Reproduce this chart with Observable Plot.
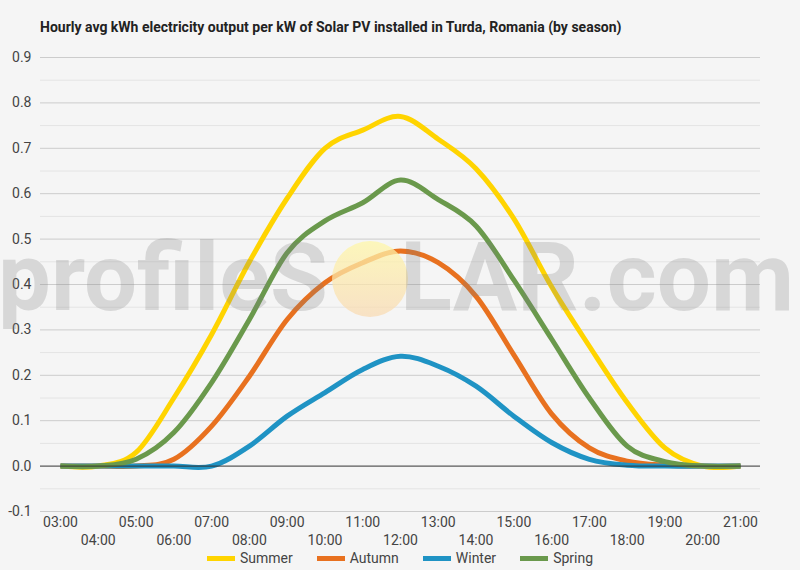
<!DOCTYPE html>
<html>
<head>
<meta charset="utf-8">
<script src="https://cdn.jsdelivr.net/npm/d3@7"></script>
<script src="https://cdn.jsdelivr.net/npm/@observablehq/plot@0.6"></script>
<style>
  html, body { margin: 0; padding: 0; background: #f5f5f5; }
  body { width: 800px; height: 570px; position: relative; overflow: hidden; font-family: Roboto, "Noto Sans", sans-serif; }
  #title { position: absolute; left: 40px; top: 19px; font-size: 14px; line-height: 16px; font-weight: 700; color: #222; white-space: nowrap; }
  #chart { position: absolute; left: 0; top: 45px; }
  #legend { position: absolute; left: 0; top: 549px; width: 800px; display: flex; justify-content: center; gap: 24px; font-size: 14px; color: #444; line-height: 18px; }
  #legend .item { display: flex; align-items: center; gap: 5px; }
  #legend .sw { width: 28px; height: 5px; display: inline-block; }
  #wm { position: absolute; left: 0; top: 0; pointer-events: none; }
</style>
</head>
<body>
<div id="title">Hourly avg kWh electricity output per kW of Solar PV installed in Turda, Romania (by season)</div>
<div id="chart"></div>
<div id="legend"></div>
<svg id="wm" width="800" height="570">
  <defs>
    <linearGradient id="sun" x1="0" y1="0" x2="0" y2="1">
      <stop offset="0" stop-color="#fff7a8" stop-opacity="0.75"/>
      <stop offset="1" stop-color="#f9d9b0" stop-opacity="0.7"/>
    </linearGradient>
  </defs>
  <circle cx="370" cy="279" r="38" fill="url(#sun)"/>
  <text x="-2" y="310" font-family="Roboto" font-weight="700" font-size="94" fill="rgb(128,128,128)" fill-opacity="0.25">profileS</text>
  <text x="400" y="310" font-family="Roboto" font-weight="700" font-size="96" fill="rgb(128,128,128)" fill-opacity="0.25">LAR.com</text>
</svg>
<script>
const hours = [3, 4, 5, 6, 7, 8, 9, 10, 11, 12, 13, 14, 15, 16, 17, 18, 19, 20, 21];
const hourLabels = ["03:00","04:00","05:00","06:00","07:00","08:00","09:00","10:00","11:00","12:00","13:00","14:00","15:00","16:00","17:00","18:00","19:00","20:00","21:00"];
const seasons = ["Summer", "Autumn", "Winter", "Spring"];
const colors = ["#ffd400", "#e8711f", "#1f93c4", "#6a994c"];
const summer = [0, 0, 0.03, 0.15, 0.29, 0.45, 0.59, 0.70, 0.74, 0.77, 0.72, 0.655, 0.545, 0.395, 0.264, 0.14, 0.04, 0, 0];
const autumn = [0, 0, 0, 0.015, 0.088, 0.198, 0.323, 0.404, 0.448, 0.474, 0.448, 0.374, 0.245, 0.115, 0.04, 0.011, 0.002, 0, 0];
const winter = [0, 0, 0, 0, 0, 0.044, 0.11, 0.162, 0.213, 0.242, 0.22, 0.176, 0.11, 0.052, 0.015, 0.002, 0, 0, 0];
const spring = [0, 0, 0.015, 0.074, 0.184, 0.323, 0.47, 0.54, 0.58, 0.63, 0.587, 0.529, 0.41, 0.28, 0.15, 0.044, 0.01, 0, 0];
const majorTicks = [-0.1, 0, 0.1, 0.2, 0.3, 0.4, 0.5, 0.6, 0.7, 0.8, 0.9];
const minorTicks = [-0.05, 0.05, 0.15, 0.25, 0.35, 0.45, 0.55, 0.65, 0.75, 0.85];

const seriesValues = [summer, autumn, winter, spring];
const data = [];
seasons.forEach((s, i) => hours.forEach((h, j) => data.push({season: s, hour: h, value: seriesValues[i][j]})));

const labelOf = h => hourLabels[hours.indexOf(h)];
const oddHours = hours.filter((h, i) => i % 2 === 0);
const evenHours = hours.filter((h, i) => i % 2 === 1);

const chart = Plot.plot({
  width: 800,
  height: 505,
  marginLeft: 40,
  marginRight: 40,
  marginTop: 12,
  marginBottom: 39,
  style: { background: "transparent", fontFamily: "Roboto, sans-serif", fontSize: "14px", color: "#444" },
  x: { domain: [2.47, 21.53], axis: null },
  y: { domain: [-0.1, 0.9], axis: null },
  color: { domain: seasons, range: colors },
  marks: [
    Plot.ruleY(minorTicks, { stroke: "#e4e4e4", strokeWidth: 1 }),
    Plot.ruleY(majorTicks.filter(t => t !== 0), { stroke: "#cccccc", strokeWidth: 1 }),
    Plot.axisY(majorTicks, { tickSize: 0, tickPadding: 9, tickFormat: d => d.toFixed(1), label: null, fill: "#444", fontSize: 14 }),
    Plot.axisX(oddHours, { tickSize: 0, tickPadding: 6, tickFormat: labelOf, label: null, fill: "#444", fontSize: 14 }),
    Plot.axisX(evenHours, { tickSize: 0, tickPadding: 24, tickFormat: labelOf, label: null, fill: "#444", fontSize: 14 }),
    Plot.line(data, { x: "hour", y: "value", z: "season", stroke: "season", strokeWidth: 5, curve: "cardinal", tension: 0, strokeLinecap: "butt" }),
    Plot.ruleY([0], { stroke: "#333333", strokeWidth: 1 })
  ]
});
document.getElementById("chart").appendChild(chart);

const legend = document.getElementById("legend");
seasons.forEach((s, i) => {
  const item = document.createElement("div");
  item.className = "item";
  const sw = document.createElement("span");
  sw.className = "sw";
  sw.style.background = colors[i];
  const t = document.createElement("span");
  t.textContent = s;
  item.appendChild(sw);
  item.appendChild(t);
  legend.appendChild(item);
});
</script>
</body>
</html>
